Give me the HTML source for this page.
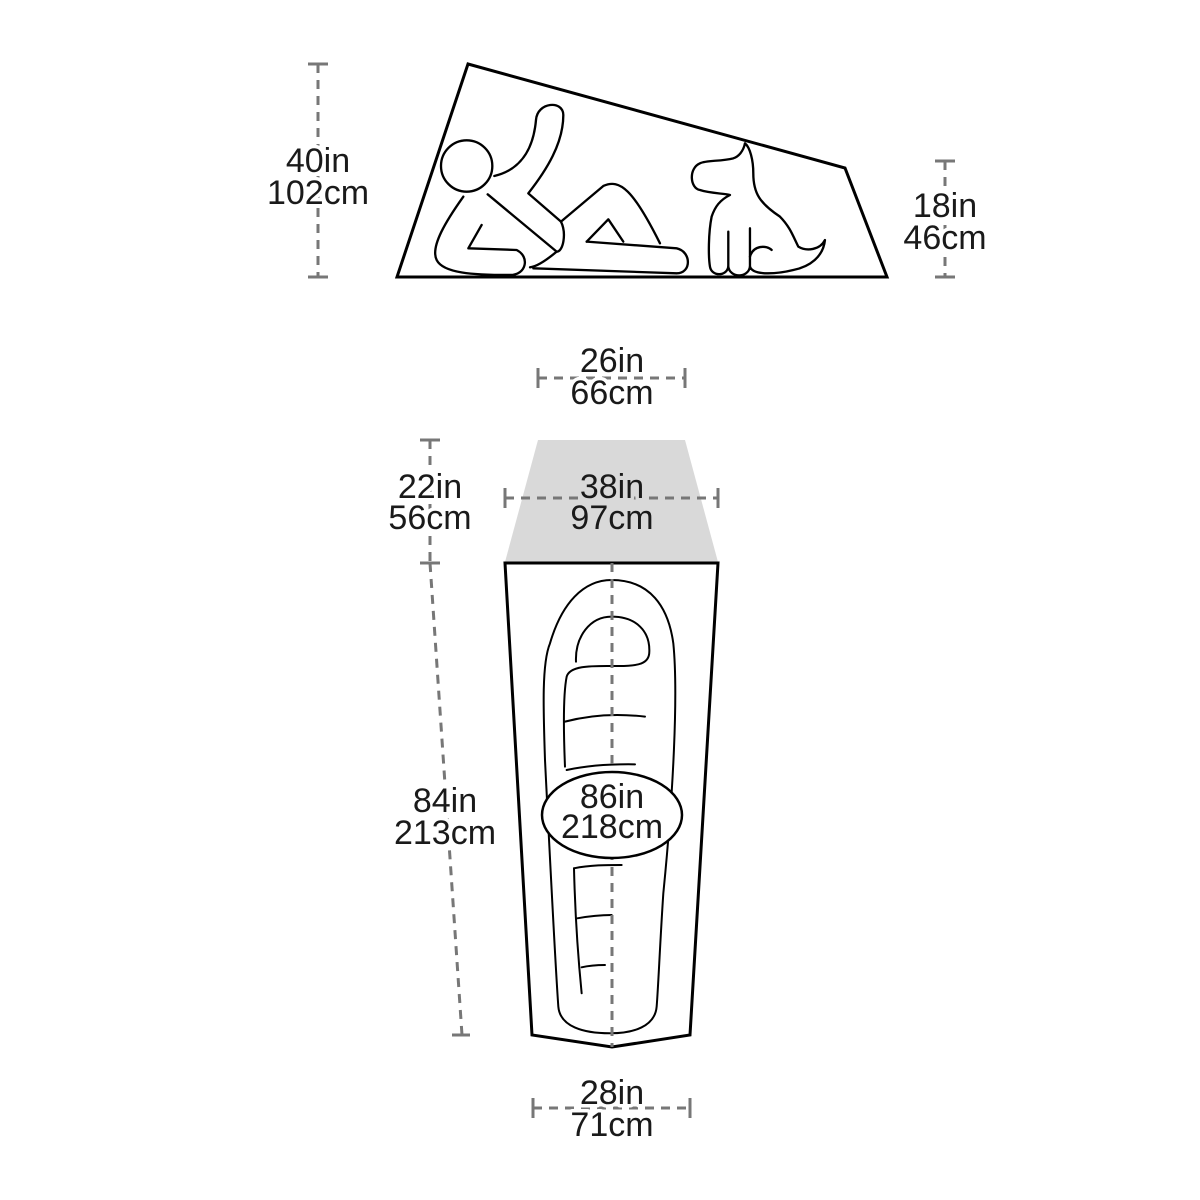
<!DOCTYPE html>
<html><head><style>
html,body{margin:0;padding:0;background:#fff}
svg{display:block}
text{font-family:"Liberation Sans",sans-serif;font-size:34px;fill:#1a1a1a;text-anchor:middle;paint-order:stroke;stroke:#fff;stroke-width:7px;stroke-linejoin:round}
text.g{stroke:#d9d9d9}
</style></head><body>
<svg width="1200" height="1200" viewBox="0 0 1200 1200">
<rect width="1200" height="1200" fill="#fff"/>
<path d="M468,64 L845,168 L887,277 L397,277 Z" fill="none" stroke="#000" stroke-width="3"/>
<g transform="translate(390 60) scale(0.3333)" fill="none" stroke="#000" stroke-width="7" stroke-linecap="round" stroke-linejoin="round">
 <circle cx="230" cy="318" r="77"/>
 <path d="M313,348 C390,330 430,270 438,180 C442,125 520,120 520,165 C520,250 470,330 415,400 L513,485"/>
 <path d="M220,410 C170,480 120,560 140,600 C160,640 250,645 360,645 C410,645 420,590 380,570 L235,565 L275,495"/>
 <path d="M293,403 L500,575"/>
 <path d="M513,485 C530,520 520,575 500,575 C470,600 440,620 420,622"/>
 <path d="M513,485 L640,378 C690,355 730,390 810,550"/>
 <path d="M590,545 L655,478 L700,545"/>
 <path d="M590,545 L860,565 C905,575 905,640 860,640 L430,625"/>
 <path d="M1065,250 C1060,275 1045,290 1030,295 C990,305 950,300 930,310 C895,325 900,385 930,390 C960,400 1000,400 1020,405 C990,420 975,440 965,470 C955,520 955,590 960,620 C965,650 1010,650 1015,620 C1020,655 1075,655 1080,620 C1090,650 1170,640 1210,630 C1260,620 1300,590 1305,540 C1290,570 1250,575 1225,560 C1210,530 1200,500 1170,470 C1110,430 1090,400 1090,340 C1090,300 1080,262 1065,250"/>
 <path d="M1015,620 L1015,515 M1080,620 L1080,505"/>
 <path d="M1080,590 C1090,555 1130,555 1145,570"/>
</g>
<path d="M538,440 L685,440 L718,562 L505,562 Z" fill="#d9d9d9"/>
<path d="M505,563 L718,563 L690,1035 L612,1047 L532,1035 Z" fill="none" stroke="#000" stroke-width="3"/>
<g transform="translate(500 560) scale(0.3333)" fill="none" stroke="#000" stroke-width="6" stroke-linecap="round">
 <path d="M335,60 C450,60 505,140 520,250 C535,400 520,700 490,1000 C480,1150 475,1280 470,1340 C465,1400 400,1420 330,1420 C250,1420 180,1400 175,1340 C165,1200 150,900 135,600 C130,450 125,310 150,250 C185,130 250,60 335,60 Z"/>
 <path d="M228,305 C225,230 270,170 335,170 C410,170 450,215 448,275 C448,310 420,320 340,318 C280,318 210,315 200,350 C190,400 190,500 195,620 M222,925 C225,1050 235,1200 245,1300"/>
 <path d="M195,485 C270,465 350,460 435,470 M200,630 C270,615 340,612 405,613 M222,925 C270,915 320,915 365,915 M232,1075 C270,1068 300,1065 335,1065 M245,1222 C270,1216 290,1215 315,1215"/>
</g>
<g stroke="#777" stroke-width="3" fill="none">
 <path d="M318,64 V277" stroke-dasharray="9 7"/>
 <path d="M308,64 H328 M308,277 H328"/>
 <path d="M945,161 V277" stroke-dasharray="9 7"/>
 <path d="M935,161 H955 M935,277 H955"/>
 <path d="M538,378 H685" stroke-dasharray="9 7"/>
 <path d="M538,368 V388 M685,368 V388"/>
 <path d="M505,498 H718" stroke-dasharray="9 7"/>
 <path d="M505,488 V508 M718,488 V508"/>
 <path d="M430,440 V563" stroke-dasharray="9 7"/>
 <path d="M420,440 H440 M420,563 H440"/>
 <path d="M430,563 L462,1035" stroke-dasharray="9 7"/>
 <path d="M452,1035 H470"/>
 <path d="M533,1108 H690" stroke-dasharray="9 7"/>
 <path d="M533,1098 V1118 M690,1098 V1118"/>
 <path d="M612,563 V1047" stroke-dasharray="9 7"/>
</g>
<ellipse cx="612" cy="815" rx="70" ry="43" fill="#fff" stroke="#000" stroke-width="2.5"/>
<text x="318" y="172">40in</text><text x="318" y="204">102cm</text>
<text x="945" y="217">18in</text><text x="945" y="249">46cm</text>
<text x="612" y="372">26in</text><text x="612" y="404">66cm</text>
<text class="g" x="612" y="498">38in</text><text class="g" x="612" y="529">97cm</text>
<text x="430" y="498">22in</text><text x="430" y="529">56cm</text>
<text x="445" y="812">84in</text><text x="445" y="844">213cm</text>
<text x="612" y="808">86in</text><text x="612" y="838">218cm</text>
<text x="612" y="1104">28in</text><text x="612" y="1136">71cm</text>
</svg>
</body></html>
